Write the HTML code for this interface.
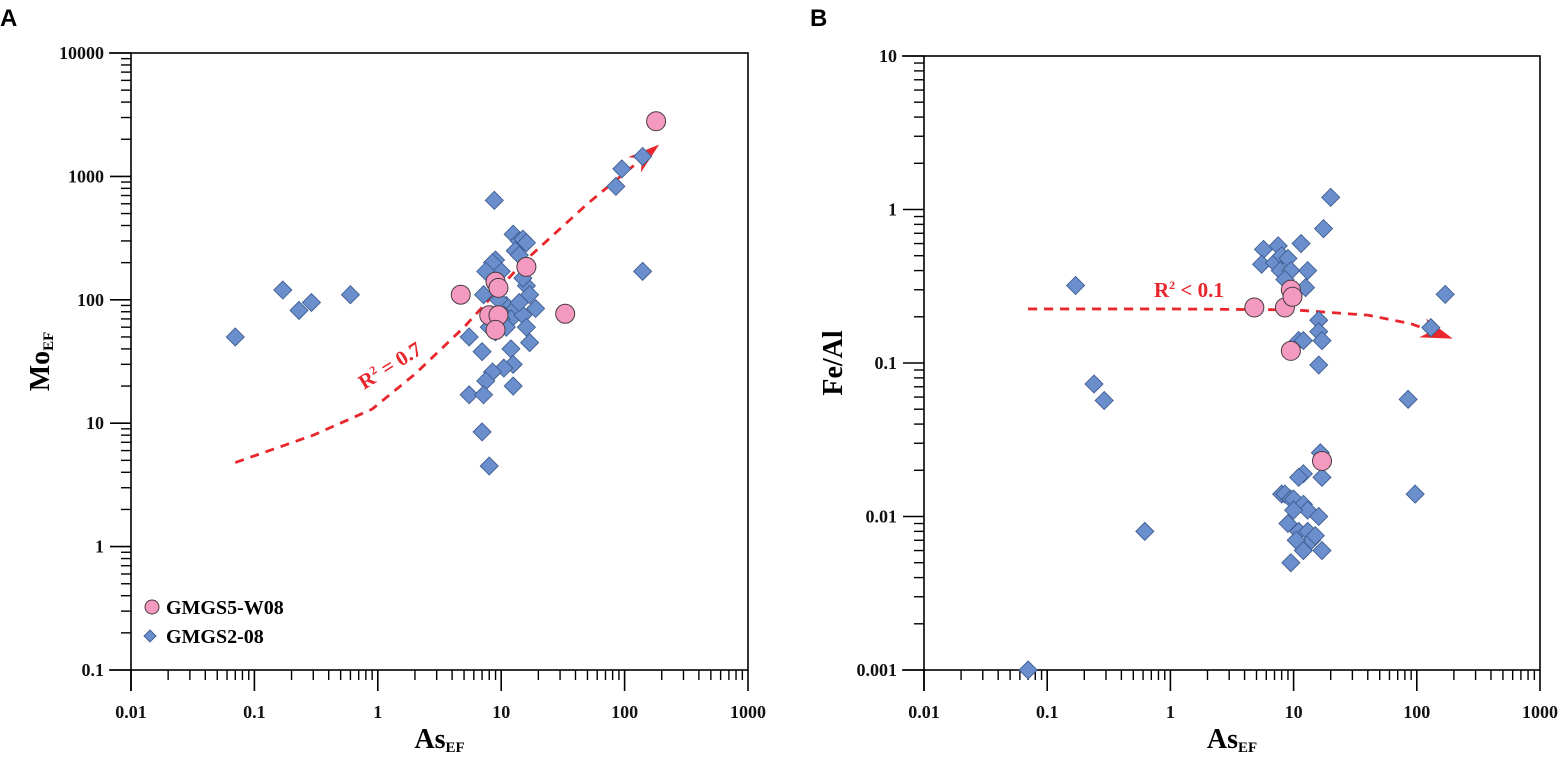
<!DOCTYPE html>
<html><head><meta charset="utf-8">
<style>
html,body{margin:0;padding:0;background:#fff;}
svg{display:block;font-family:"Liberation Serif",serif;}
.tick{font-weight:bold;font-size:18px;fill:#111;}
</style></head>
<body>
<svg id="fig" width="1562" height="758" viewBox="0 0 1562 758" xmlns="http://www.w3.org/2000/svg">
<text x="0" y="26" font-family="Liberation Sans,sans-serif" font-weight="bold" font-size="24">A</text>
<text x="810" y="26" font-family="Liberation Sans,sans-serif" font-weight="bold" font-size="24">B</text>
</svg>
<script>
// Panel A data
const aBlueX=[0.07,0.17,0.23,0.29,0.6,140,85,95,140,8.8,12.5,14,15,16,13,14,9,8,10,8.5,7.5,11,7.2,9.5,16,15,17,13,19,10.5,12,15,8,9,16,5.5,17,12,7,12.5,10.5,8.5,7.5,5.5,7.2,12.5,7,8,10,11,14];
const aBlueY=[50,120,82,95,110,170,830,1150,1450,640,340,300,310,290,250,230,210,180,170,200,170,90,110,100,130,150,110,85,85,75,70,75,60,55,60,50,45,40,38,30,28,26,22,17,17,20,8.5,4.5,70,60,95];
const aPinkX=[4.7,8,9,9.5,9.5,9,16,33,180];
const aPinkY=[110,75,140,125,75,57,185,77,2800];
const aTrendX=[0.07,0.3,0.9,2,5,15,50,170];
const aTrendY=[4.8,8,13,25,60,200,600,1650];
// Panel B data
const bBlueX=[0.07,0.17,0.24,0.29,0.62,85,97,130,170,20,17.5,11.5,5.7,7.5,5.5,7,8,9,7.8,9.5,13,8.5,12.5,11,12,16,16,17,16,16.5,17,12,11,8,8.5,9.5,10,12,13,10,16,9,11,13,14,10.5,12,17,9.5,15];
const bBlueY=[0.001,0.32,0.073,0.057,0.008,0.058,0.014,0.17,0.28,1.2,0.75,0.6,0.55,0.58,0.44,0.45,0.5,0.48,0.4,0.4,0.4,0.35,0.31,0.14,0.14,0.19,0.16,0.14,0.097,0.026,0.018,0.019,0.018,0.014,0.014,0.013,0.013,0.012,0.011,0.011,0.01,0.009,0.008,0.008,0.007,0.007,0.006,0.006,0.005,0.0075];
const bPinkX=[4.8,8.5,9.5,9.8,9.5,17];
const bPinkY=[0.23,0.23,0.3,0.27,0.12,0.023];
const bTrendX=[0.07,1,10,40,90,170];
const bTrendY=[0.225,0.225,0.222,0.205,0.18,0.15];
const xTicks=["0.01","0.1","1","10","100","1000"];
const aYTicks=["0.1","1","10","100","1000","10000"];
const bYTicks=["0.001","0.01","0.1","1","10"];

const NS="http://www.w3.org/2000/svg";
const svg=document.getElementById('fig');
function mk(tag,attrs,parent){const e=document.createElementNS(NS,tag);for(const k in attrs)e.setAttribute(k,attrs[k]);(parent||svg).appendChild(e);return e;}

function panel(p){
  const g=mk('g',{});
  
  
  const xs=v=>p.x0+(Math.log10(v)-p.xmin)/(p.xmax-p.xmin)*(p.x1-p.x0);
  const ys=v=>p.y1-(Math.log10(v)-p.ymin)/(p.ymax-p.ymin)*(p.y1-p.y0);
  const fr=mk('rect',{x:p.x0,y:p.y0,width:p.x1-p.x0,height:p.y1-p.y0,fill:'none',stroke:'#000','stroke-width':1.6},g);
  
  
  mk('line',{x1:p.x0-22,y1:p.y1,x2:p.x0,y2:p.y1,stroke:'#000','stroke-width':1.6},g);
  mk('line',{x1:p.x0,y1:p.y1,x2:p.x0,y2:p.y1+21,stroke:'#000','stroke-width':1.6},g);
  mk('line',{x1:p.x0-22,y1:p.y0,x2:p.x0,y2:p.y0,stroke:'#000','stroke-width':1.6},g);
  for(let d=p.xmin;d<=p.xmax;d++){
    const X=xs(Math.pow(10,d));
    mk('line',{x1:X,y1:p.y1,x2:X,y2:p.y1+21,stroke:'#000','stroke-width':1.6},g);
    const t=mk('text',{x:X,y:p.y1+48,'text-anchor':'middle',class:'tick'},g);
    t.textContent=xTicks[d-p.xmin];
    
    
    if(d<p.xmax)for(let m=2;m<10;m++){const Xm=xs(m*Math.pow(10,d));mk('line',{x1:Xm,y1:p.y1,x2:Xm,y2:p.y1+10,stroke:'#000','stroke-width':1.4},g);}
  }
  for(let d=p.ymin;d<=p.ymax;d++){
    const Y=ys(Math.pow(10,d));
    mk('line',{x1:p.x0-21,y1:Y,x2:p.x0,y2:Y,stroke:'#000','stroke-width':1.6},g);
    const t=mk('text',{x:p.x0-27,y:Y+6,'text-anchor':'end',class:'tick'},g);
    t.textContent=p.yTicks[d-p.ymin];
    
    
    if(d<p.ymax)for(let m=2;m<10;m++){const Ym=ys(m*Math.pow(10,d));mk('line',{x1:p.x0-10,y1:Ym,x2:p.x0,y2:Ym,stroke:'#000','stroke-width':1.4},g);}
  }
  const xt=mk('text',{x:(p.x0+p.x1)/2,y:748,'text-anchor':'middle','font-weight':'bold','font-size':28},g);
  xt.innerHTML='As<tspan font-size="15" dy="4">EF</tspan>';
  
  
  const yt=mk('text',{x:0,y:0,'text-anchor':'middle','font-weight':'bold','font-size':28,transform:`translate(${p.x0-82},${(p.y0+p.y1)/2}) rotate(-90)`},g);
  yt.innerHTML=p.yTitle;
  
  
  const n=p.tx.length;
  const P=p.tx.map((v,i)=>[xs(v),ys(p.ty[i])]);
  let dpath='M'+P[0][0]+','+P[0][1];
  for(let i=1;i<n;i++){dpath+=' L'+P[i][0]+','+P[i][1];}
  const tl=mk('path',{d:dpath,fill:'none',stroke:'#e8262b','stroke-width':2.8,'stroke-dasharray':'9,7','stroke-linejoin':'round'},g);
  
  
  const a=P[n-1],b=P[n-2];const ang=Math.atan2(a[1]-b[1],a[0]-b[0]);
  const L=24,W=10;
  const ah=mk('polygon',{points:`${a[0]+Math.cos(ang)*8},${a[1]+Math.sin(ang)*8} ${a[0]-L*Math.cos(ang)+W*Math.sin(ang)},${a[1]-L*Math.sin(ang)-W*Math.cos(ang)} ${a[0]-L*0.6*Math.cos(ang)},${a[1]-L*0.6*Math.sin(ang)} ${a[0]-L*Math.cos(ang)-W*Math.sin(ang)},${a[1]-L*Math.sin(ang)+W*Math.cos(ang)}`,fill:'#e8262b'},g);
  
  
  const lb=mk('text',{x:0,y:0,'font-weight':'bold','font-size':21,fill:'#e8262b',transform:p.lblT},g);
  lb.innerHTML=p.lbl;
  
  
  p.bx.forEach((v,i)=>{
    const X=xs(v),Y=ys(p.by[i]),s=9;
    const d=mk('polygon',{points:`${X},${Y-s} ${X+s},${Y} ${X},${Y+s} ${X-s},${Y}`,fill:'#6a8fcc',stroke:'#3f5d91','stroke-width':0.9},g);
    
    
  });
  p.px.forEach((v,i)=>{
    const c=mk('circle',{cx:xs(v),cy:ys(p.py[i]),r:9.5,fill:'#f49ac0',stroke:'#4a3a40','stroke-width':1},g);
    
    
  });
}

panel({name:'panel-a-chart',x0:131,x1:748,y0:53,y1:670,xmin:-2,xmax:3,ymin:-1,ymax:4,yTicks:aYTicks,
  yTitle:'Mo<tspan font-size="15" dy="4">EF</tspan>',bx:aBlueX,by:aBlueY,px:aPinkX,py:aPinkY,tx:aTrendX,ty:aTrendY,
  lbl:'R<tspan font-size="12" dy="-8">2</tspan><tspan dy="8"> = 0.7</tspan>',lblT:'translate(364,390) rotate(-32)'});
panel({name:'panel-b-chart',x0:924,x1:1540,y0:56,y1:670,xmin:-2,xmax:3,ymin:-3,ymax:1,yTicks:bYTicks,
  yTitle:'Fe/Al',bx:bBlueX,by:bBlueY,px:bPinkX,py:bPinkY,tx:bTrendX,ty:bTrendY,
  lbl:'R<tspan font-size="12" dy="-8">2</tspan><tspan dy="8"> &lt; 0.1</tspan>',lblT:'translate(1154,297)'});

const lg=mk('g',{});


const lc=mk('circle',{cx:152,cy:607,r:7,fill:'#f49ac0',stroke:'#4a3a40','stroke-width':1},lg);


const lt1=mk('text',{x:166,y:614,'font-weight':'bold','font-size':20},lg);
lt1.textContent='GMGS5-W08';


const ld=mk('polygon',{points:'150,630 156,636 150,642 144,636',fill:'#6a8fcc',stroke:'#3f5d91','stroke-width':0.9},lg);


const lt2=mk('text',{x:166,y:643,'font-weight':'bold','font-size':20},lg);
lt2.textContent='GMGS2-08';


</script>
</body></html>
